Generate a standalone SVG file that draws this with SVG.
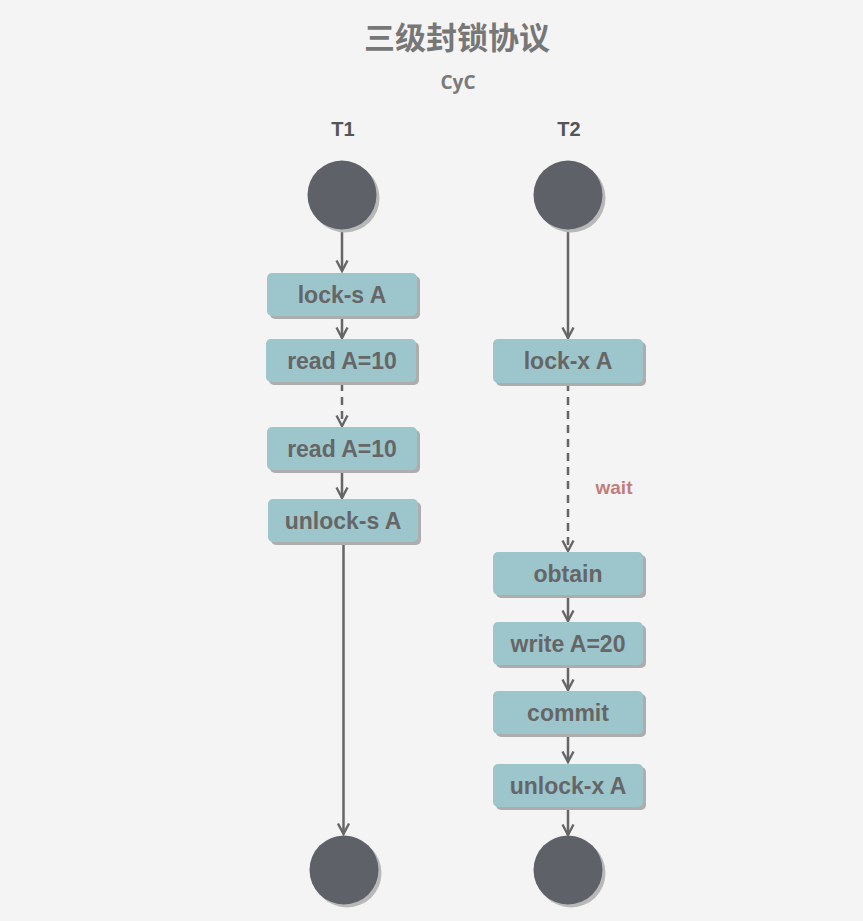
<svg xmlns="http://www.w3.org/2000/svg" width="863" height="921" viewBox="0 0 863 921">
<defs>
<marker id="arr" viewBox="0 0 14 14" refX="12" refY="7" markerWidth="14" markerHeight="14" markerUnits="userSpaceOnUse" orient="auto">
<path d="M1.5,1.5 L12,7 L1.5,12.5" fill="none" stroke="#666" stroke-width="2.4"/>
</marker>
</defs>
<style>
.bg{fill:#f4f4f4}
.title{font-family:"Liberation Sans","Noto Sans CJK SC",sans-serif;font-weight:bold;font-size:31px;fill:#777;text-anchor:middle}
.sub{font-family:"Open Sans","Liberation Sans",sans-serif;font-weight:bold;font-size:19px;fill:#7a7a7a;text-anchor:middle}
.lane{font-family:"Liberation Sans",Arial,sans-serif;font-weight:bold;font-size:20px;fill:#555;text-anchor:middle}
.box{fill:#9dc5cc}
.sh{fill:#adadad}
.csh{fill:#b8b8b8}
.circ{fill:#5f6168}
.lbl{font-family:"Liberation Sans",Arial,sans-serif;font-weight:bold;font-size:23px;fill:#666;text-anchor:middle}
.wait{font-family:"Liberation Sans",Arial,sans-serif;font-weight:bold;font-size:19px;fill:#c27c7c;text-anchor:middle}
.ln{stroke:#666;stroke-width:2.5;fill:none;marker-end:url(#arr)}
.dash{stroke-dasharray:8 6}
</style>
<rect class="bg" x="0" y="0" width="863" height="921"/>
<text class="title" x="457" y="49">三级封锁协议</text>
<text class="sub" x="458" y="89">CyC</text>
<text class="lane" x="343" y="136">T1</text>
<text class="lane" x="569" y="136">T2</text>

<g id="connectors">
<line class="ln" x1="342" y1="230" x2="342" y2="271"/>
<line class="ln" x1="342" y1="316" x2="342" y2="338"/>
<line class="ln dash" x1="342" y1="383" x2="342" y2="426"/>
<line class="ln" x1="342" y1="470" x2="342" y2="498"/>
<line class="ln" x1="343.5" y1="542" x2="343.5" y2="834"/>
<line class="ln" x1="568" y1="230" x2="568" y2="338"/>
<line class="ln dash" x1="568" y1="383" x2="568" y2="551"/>
<line class="ln" x1="568" y1="595" x2="568" y2="621"/>
<line class="ln" x1="568" y1="664" x2="568" y2="690"/>
<line class="ln" x1="568" y1="734" x2="568" y2="762"/>
<line class="ln" x1="568" y1="807" x2="568" y2="835"/>
<text class="wait" x="614" y="494">wait</text>
</g>

<g id="t1-start"><circle class="csh" cx="345" cy="198" r="34.5"/><circle class="circ" cx="342" cy="195" r="34.5"/></g>
<g id="t1-locks"><rect class="sh" x="270" y="276" width="150" height="43" rx="5"/><rect class="box" x="267" y="273" width="150" height="43" rx="5"/><text class="lbl" x="342" y="303">lock-s A</text></g>
<g id="t1-read1"><rect class="sh" x="269" y="342" width="150" height="43" rx="5"/><rect class="box" x="266" y="339" width="150" height="43" rx="5"/><text class="lbl" x="342" y="369">read A=10</text></g>
<g id="t1-read2"><rect class="sh" x="270" y="430" width="150" height="43" rx="5"/><rect class="box" x="267" y="427" width="150" height="43" rx="5"/><text class="lbl" x="342" y="457">read A=10</text></g>
<g id="t1-unlocks"><rect class="sh" x="271" y="502" width="150" height="43" rx="5"/><rect class="box" x="268" y="499" width="150" height="43" rx="5"/><text class="lbl" x="343" y="529">unlock-s A</text></g>
<g id="t1-end"><circle class="csh" cx="347" cy="873" r="34.5"/><circle class="circ" cx="344" cy="870" r="34.5"/></g>

<g id="t2-start"><circle class="csh" cx="571" cy="198" r="34.5"/><circle class="circ" cx="568" cy="195" r="34.5"/></g>
<g id="t2-lockx"><rect class="sh" x="496" y="342" width="150" height="44" rx="5"/><rect class="box" x="493" y="339" width="150" height="44" rx="5"/><text class="lbl" x="568" y="369">lock-x A</text></g>
<g id="t2-obtain"><rect class="sh" x="496" y="555" width="150" height="43" rx="5"/><rect class="box" x="493" y="552" width="150" height="43" rx="5"/><text class="lbl" x="568" y="582">obtain</text></g>
<g id="t2-write"><rect class="sh" x="496" y="625" width="150" height="43" rx="5"/><rect class="box" x="493" y="622" width="150" height="43" rx="5"/><text class="lbl" x="568" y="652">write A=20</text></g>
<g id="t2-commit"><rect class="sh" x="496" y="694" width="150" height="43" rx="5"/><rect class="box" x="493" y="691" width="150" height="43" rx="5"/><text class="lbl" x="568" y="721">commit</text></g>
<g id="t2-unlockx"><rect class="sh" x="496" y="767" width="150" height="43" rx="5"/><rect class="box" x="493" y="764" width="150" height="43" rx="5"/><text class="lbl" x="568" y="794">unlock-x A</text></g>
<g id="t2-end"><circle class="csh" cx="571" cy="873" r="34.5"/><circle class="circ" cx="568" cy="870" r="34.5"/></g>
</svg>
